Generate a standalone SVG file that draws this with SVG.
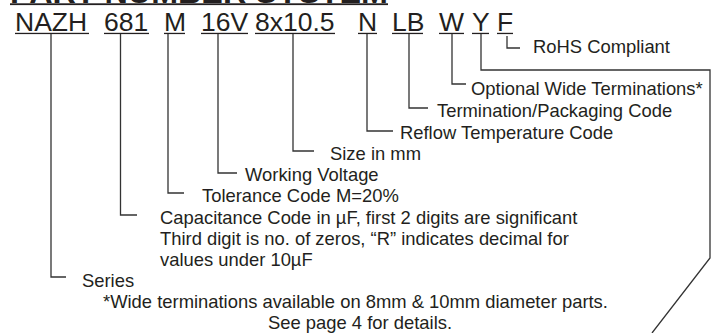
<svg xmlns="http://www.w3.org/2000/svg" width="723" height="333" viewBox="0 0 723 333">
<style>
text{font-family:"Liberation Sans",Arial,sans-serif;fill:#231f20}
.pn{font-size:26.5px}
.lb{font-size:18.4px}
.ttl{font-size:32px;font-weight:bold}
.ln{fill:none;stroke:#333;stroke-width:1.3}
.ul{fill:#231f20}
</style>
<rect width="723" height="333" fill="#fff"/>
<g id="title">
<text class="ttl" x="10" y="2.7" textLength="378" lengthAdjust="spacingAndGlyphs">PART NUMBER SYSTEM</text>
<rect class="ul" x="10" y="3.3" width="378" height="1.8"/>
</g>
<g id="part-number">
<g id="seg-nazh"><text class="pn" x="15" y="31">NAZH</text><rect class="ul" x="15" y="32.8" width="74" height="1.3"/></g>
<g id="seg-681"><text class="pn" x="104" y="31">681</text><rect class="ul" x="104" y="32.8" width="45" height="1.3"/></g>
<g id="seg-m"><text class="pn" x="164" y="31">M</text><rect class="ul" x="164" y="32.8" width="21" height="1.3"/></g>
<g id="seg-16v"><text class="pn" x="201" y="31">16V</text><rect class="ul" x="201" y="32.8" width="47" height="1.3"/></g>
<g id="seg-size"><text class="pn" x="255" y="31">8x10.5</text><rect class="ul" x="255" y="32.8" width="80" height="1.3"/></g>
<g id="seg-n"><text class="pn" x="358" y="31">N</text><rect class="ul" x="358" y="32.8" width="19" height="1.3"/></g>
<g id="seg-lb"><text class="pn" x="392" y="31">LB</text><rect class="ul" x="392" y="32.8" width="31" height="1.3"/></g>
<g id="seg-w"><text class="pn" x="439" y="31">W</text><rect class="ul" x="439" y="32.8" width="25" height="1.3"/></g>
<g id="seg-y"><text class="pn" x="472" y="31">Y</text><rect class="ul" x="472" y="32.8" width="17" height="1.3"/></g>
<g id="seg-f"><text class="pn" x="497" y="31">F</text><rect class="ul" x="497" y="32.8" width="16" height="1.3"/></g>
</g>
<g id="connectors">
<polyline class="ln" points="51,34 51,277 66,277"/>
<polyline class="ln" points="120.5,34 120.5,215 137,215"/>
<polyline class="ln" points="168,34 168,193 184,193"/>
<polyline class="ln" points="218,34 218,173 237,173"/>
<polyline class="ln" points="293,34 293,151 314,151"/>
<polyline class="ln" points="367,34 367,131 393,131"/>
<polyline class="ln" points="409,34 409,108 428,108"/>
<polyline class="ln" points="452,34 452,84 466,84"/>
<polyline class="ln" points="481,34 481,70 710,70 710,258 652,333"/>
<polyline class="ln" points="507,36 507,48 520,48"/>
</g>
<g id="label-rohs"><text class="lb" x="533" y="53">RoHS Compliant</text></g>
<g id="label-wide"><text class="lb" x="471" y="95">Optional Wide Terminations*</text></g>
<g id="label-term"><text class="lb" x="437" y="117">Termination/Packaging Code</text></g>
<g id="label-reflow"><text class="lb" x="400" y="138.5">Reflow Temperature Code</text></g>
<g id="label-size"><text class="lb" x="330" y="160">Size in mm</text></g>
<g id="label-voltage"><text class="lb" x="245" y="181">Working Voltage</text></g>
<g id="label-tol"><text class="lb" x="202" y="202">Tolerance Code M=20%</text></g>
<g id="label-cap">
<text class="lb" x="160" y="224">Capacitance Code in µF, first 2 digits are significant</text>
<text class="lb" x="160" y="245">Third digit is no. of zeros, “R” indicates decimal for</text>
<text class="lb" x="160" y="266">values under 10µF</text>
</g>
<g id="label-series"><text class="lb" x="82" y="287">Series</text></g>
<g id="footnote">
<text class="lb" x="103" y="308">*Wide terminations available on 8mm &amp; 10mm diameter parts.</text>
<text class="lb" x="268" y="329">See page 4 for details.</text>
</g>
</svg>
